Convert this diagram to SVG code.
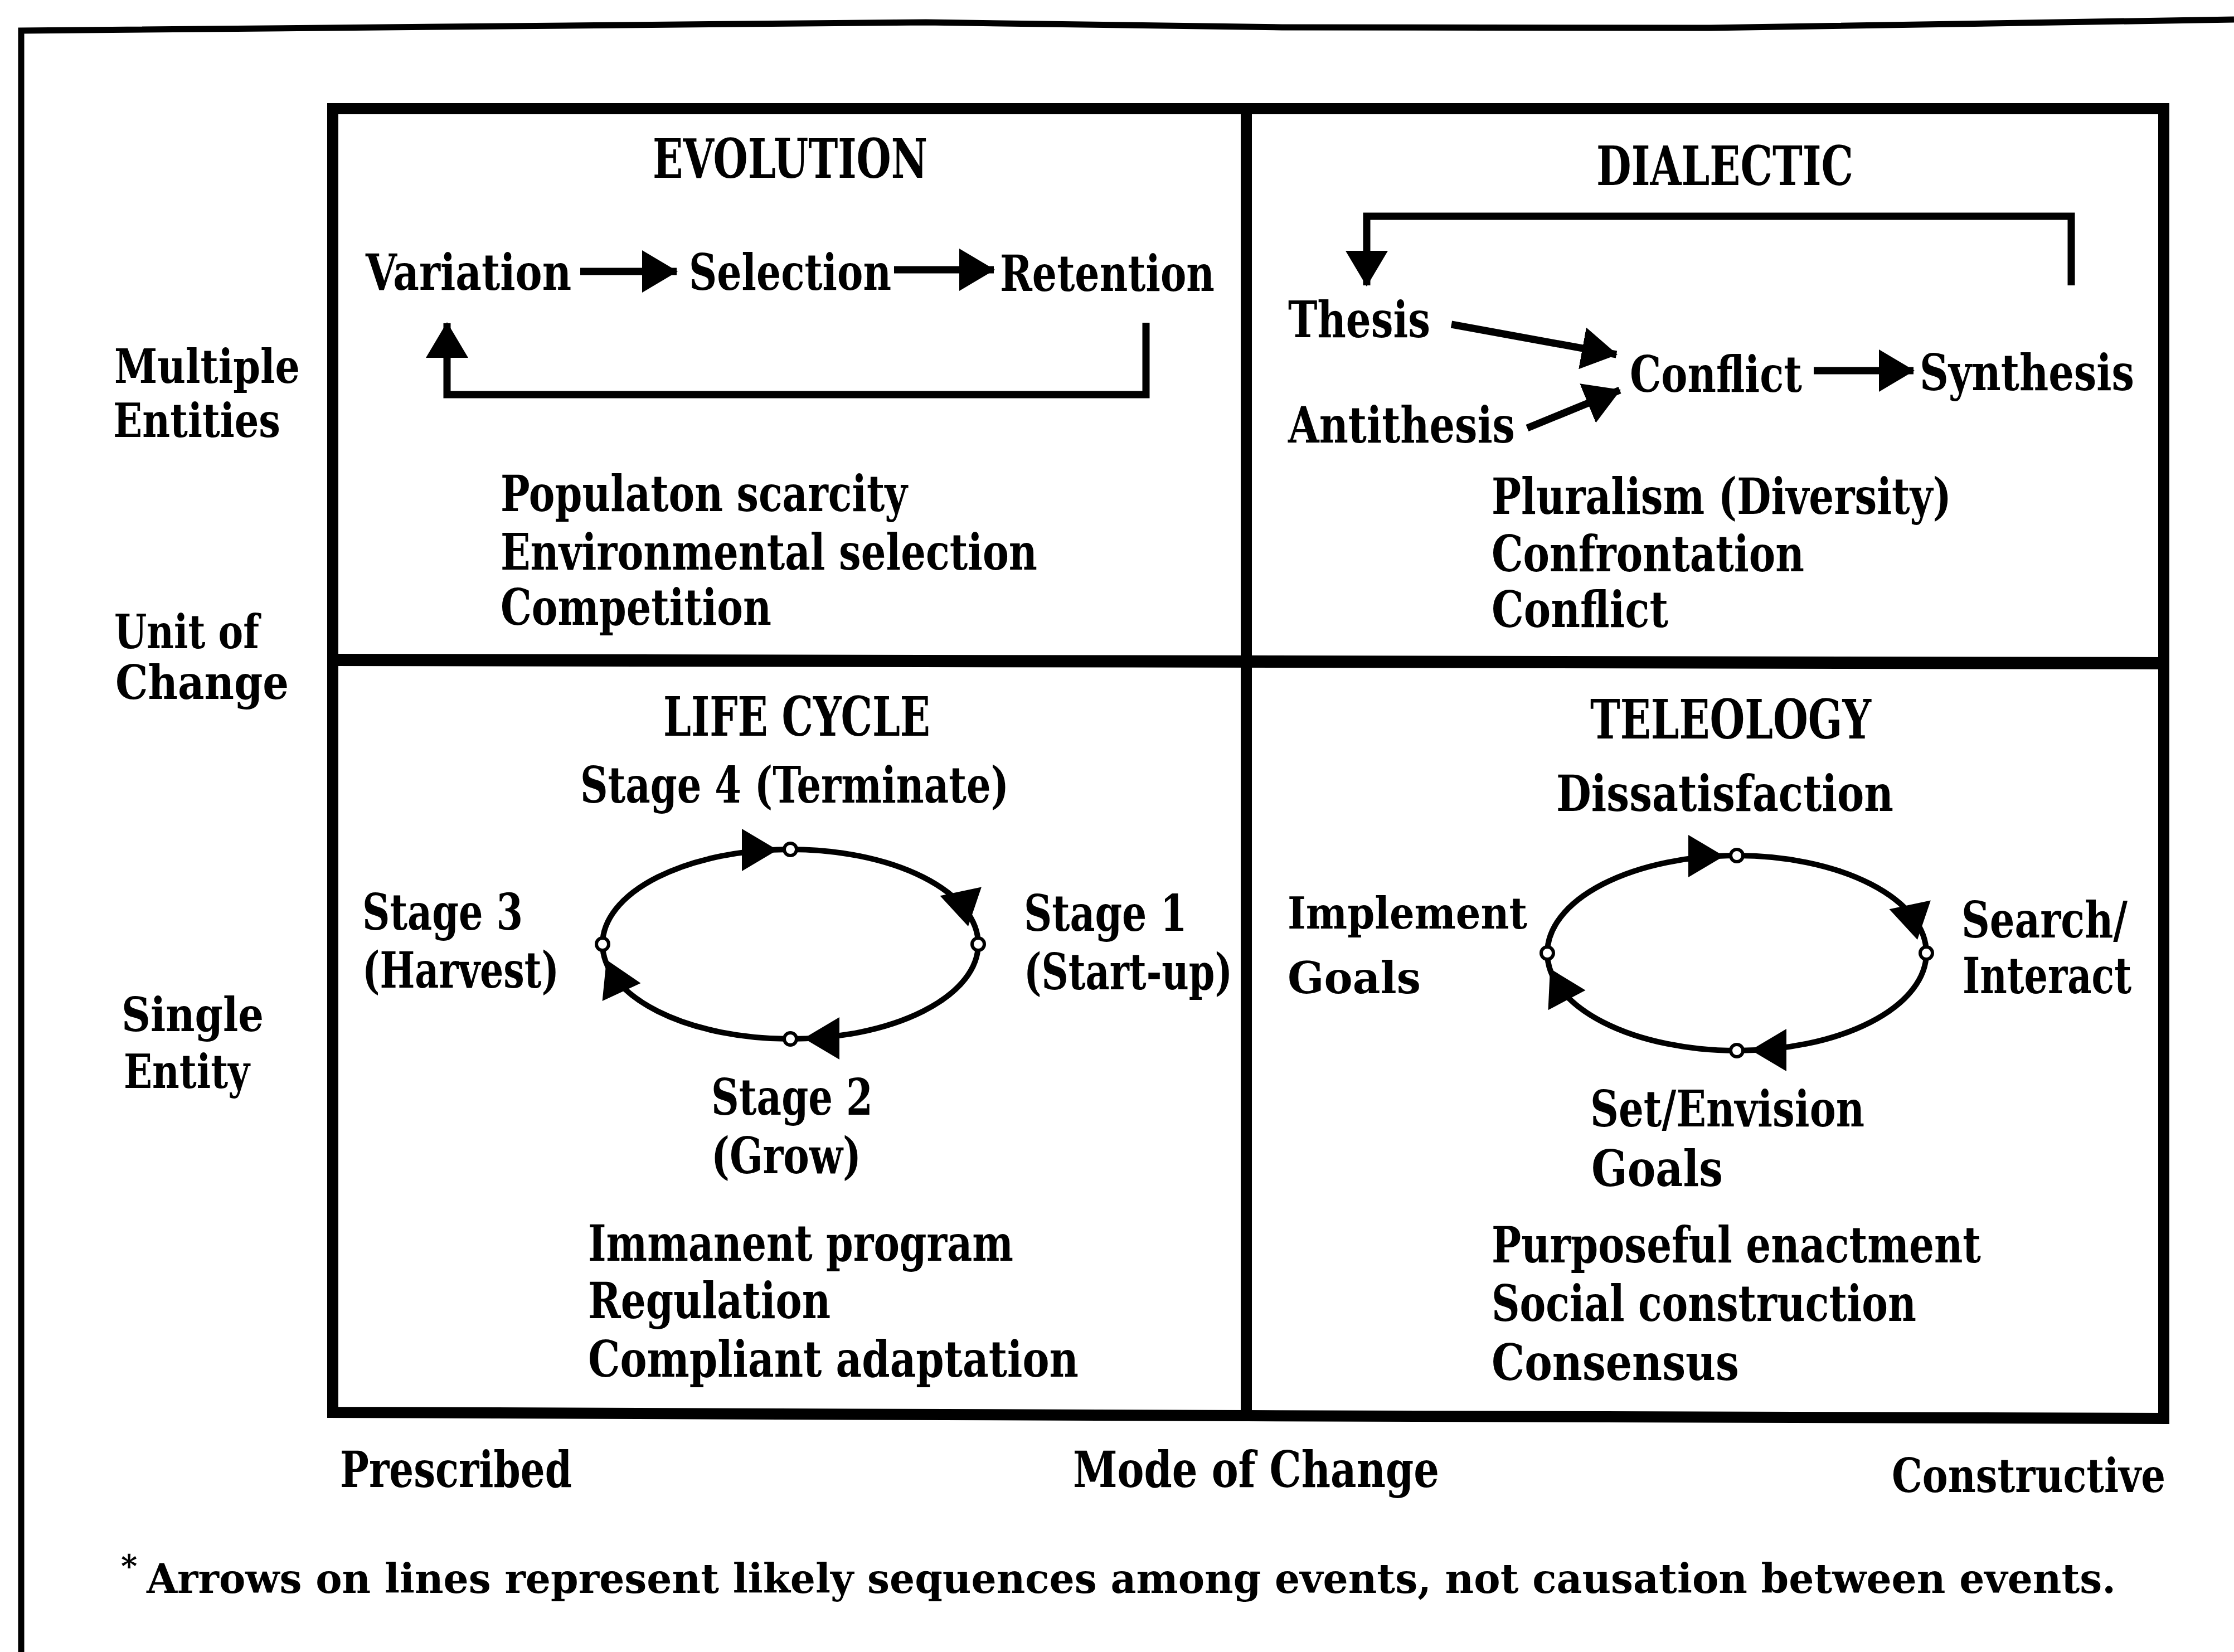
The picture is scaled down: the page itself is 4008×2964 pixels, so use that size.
<svg xmlns="http://www.w3.org/2000/svg" width="4008" height="2964" viewBox="0 0 4008 2964">
  <defs>
    <style>
      .t{font-family:"DejaVu Serif","Liberation Serif",serif;font-weight:bold;fill:#000;font-size:90px}
      .h{font-size:98px}
      .s{font-size:84px}
      .xs{font-size:78px}
      .fn{font-size:72px}
      .rule{fill:none;stroke:#000;stroke-linejoin:miter}
      .c{fill:none;stroke:#000;stroke-width:13}
      .cyc{fill:none;stroke:#000;stroke-width:10}
      .dot{fill:#fff;stroke:#000;stroke-width:6}
    </style>
    <marker id="arr" markerUnits="userSpaceOnUse" viewBox="0 0 64 76" markerWidth="64" markerHeight="76" refX="62" refY="38" orient="auto">
      <path d="M0,0 L64,38 L0,76 Z" fill="#000"/>
    </marker>
    <path id="head" d="M0,0 L-64,-38 L-64,38 Z" fill="#000"/>
  </defs>

  <rect width="4008" height="2964" fill="#fff"/>

  <!-- page frame -->
  <polyline class="rule" stroke-width="11" points="38,2964 38,55 1661,40 2300,49 3067,50 4008,35"/>

  <!-- 2x2 grid -->
  <g id="grid">
    <path class="rule" stroke-width="20" d="M597 195 H3882 V2545 L2236 2540 L597 2534 Z"/>
    <path class="rule" stroke-width="20" d="M2236 195 V2540"/>
    <path class="rule" stroke-width="22" d="M597 1184 L3882 1190"/>
  </g>

  <!-- axis labels -->
  <g id="axis-unit">
    <text class="t s" x="205" y="687" textLength="333" lengthAdjust="spacingAndGlyphs">Multiple</text>
    <text class="t s" x="203" y="784" textLength="300" lengthAdjust="spacingAndGlyphs">Entities</text>
    <text class="t s" x="205" y="1163" textLength="260" lengthAdjust="spacingAndGlyphs">Unit of</text>
    <text class="t s" x="207" y="1254" textLength="311" lengthAdjust="spacingAndGlyphs">Change</text>
    <text class="t s" x="218" y="1850" textLength="255" lengthAdjust="spacingAndGlyphs">Single</text>
    <text class="t s" x="222" y="1952" textLength="226" lengthAdjust="spacingAndGlyphs">Entity</text>
  </g>
  <g id="axis-mode">
    <text class="t" x="610" y="2668" textLength="416" lengthAdjust="spacingAndGlyphs">Prescribed</text>
    <text class="t" x="1925" y="2668" textLength="657" lengthAdjust="spacingAndGlyphs">Mode of Change</text>
    <text class="t s" x="3394" y="2677" textLength="491" lengthAdjust="spacingAndGlyphs">Constructive</text>
  </g>

  <!-- evolution -->
  <g id="evolution">
    <text class="t h" x="1171" y="319" textLength="493" lengthAdjust="spacingAndGlyphs">EVOLUTION</text>
    <text class="t" x="898" y="917" textLength="730" lengthAdjust="spacingAndGlyphs">Populaton scarcity</text>
    <text class="t" x="898" y="1022" textLength="963" lengthAdjust="spacingAndGlyphs">Environmental selection</text>
    <text class="t" x="898" y="1121" textLength="486" lengthAdjust="spacingAndGlyphs">Competition</text>
  </g>
  <g id="variation"><text class="t" x="656" y="520" textLength="369" lengthAdjust="spacingAndGlyphs">Variation</text></g>
  <g id="selection"><text class="t" x="1236" y="520" textLength="363" lengthAdjust="spacingAndGlyphs">Selection</text></g>
  <g id="retention"><text class="t" x="1794" y="522" textLength="385" lengthAdjust="spacingAndGlyphs">Retention</text></g>

  <!-- dialectic -->
  <g id="dialectic">
    <text class="t h" x="2864" y="332" textLength="461" lengthAdjust="spacingAndGlyphs">DIALECTIC</text>
    <text class="t" x="2676" y="922" textLength="825" lengthAdjust="spacingAndGlyphs">Pluralism (Diversity)</text>
    <text class="t" x="2676" y="1025" textLength="561" lengthAdjust="spacingAndGlyphs">Confrontation</text>
    <text class="t" x="2676" y="1125" textLength="317" lengthAdjust="spacingAndGlyphs">Conflict</text>
  </g>
  <g id="thesis"><text class="t" x="2311" y="605" textLength="255" lengthAdjust="spacingAndGlyphs">Thesis</text></g>
  <g id="antithesis"><text class="t" x="2311" y="794" textLength="407" lengthAdjust="spacingAndGlyphs">Antithesis</text></g>
  <g id="conflict"><text class="t" x="2924" y="703" textLength="309" lengthAdjust="spacingAndGlyphs">Conflict</text></g>
  <g id="synthesis"><text class="t" x="3444" y="700" textLength="385" lengthAdjust="spacingAndGlyphs">Synthesis</text></g>

  <!-- life cycle -->
  <g id="life-cycle">
    <text class="t h" x="1190" y="1320" textLength="479" lengthAdjust="spacingAndGlyphs">LIFE CYCLE</text>
    <text class="t" x="1055" y="2262" textLength="763" lengthAdjust="spacingAndGlyphs">Immanent program</text>
    <text class="t" x="1055" y="2365" textLength="435" lengthAdjust="spacingAndGlyphs">Regulation</text>
    <text class="t" x="1055" y="2470" textLength="880" lengthAdjust="spacingAndGlyphs">Compliant adaptation</text>
  </g>
  <g id="stage-4"><text class="t" x="1041" y="1440" textLength="769" lengthAdjust="spacingAndGlyphs">Stage 4 (Terminate)</text></g>
  <g id="stage-1">
    <text class="t" x="1837" y="1670" textLength="293" lengthAdjust="spacingAndGlyphs">Stage 1</text>
    <text class="t" x="1837" y="1775" textLength="374" lengthAdjust="spacingAndGlyphs">(Start-up)</text>
  </g>
  <g id="stage-2">
    <text class="t" x="1276" y="2000" textLength="290" lengthAdjust="spacingAndGlyphs">Stage 2</text>
    <text class="t" x="1276" y="2105" textLength="269" lengthAdjust="spacingAndGlyphs">(Grow)</text>
  </g>
  <g id="stage-3">
    <text class="t" x="650" y="1668" textLength="288" lengthAdjust="spacingAndGlyphs">Stage 3</text>
    <text class="t" x="650" y="1772" textLength="353" lengthAdjust="spacingAndGlyphs">(Harvest)</text>
  </g>

  <!-- teleology -->
  <g id="teleology">
    <text class="t h" x="2853" y="1325" textLength="504" lengthAdjust="spacingAndGlyphs">TELEOLOGY</text>
    <text class="t" x="2676" y="2265" textLength="878" lengthAdjust="spacingAndGlyphs">Purposeful enactment</text>
    <text class="t" x="2676" y="2370" textLength="762" lengthAdjust="spacingAndGlyphs">Social construction</text>
    <text class="t" x="2676" y="2476" textLength="444" lengthAdjust="spacingAndGlyphs">Consensus</text>
  </g>
  <g id="dissatisfaction"><text class="t" x="2792" y="1455" textLength="605" lengthAdjust="spacingAndGlyphs">Dissatisfaction</text></g>
  <g id="search-interact">
    <text class="t" x="3519" y="1682" textLength="298" lengthAdjust="spacingAndGlyphs">Search/</text>
    <text class="t" x="3521" y="1782" textLength="303" lengthAdjust="spacingAndGlyphs">Interact</text>
  </g>
  <g id="set-envision">
    <text class="t" x="2853" y="2021" textLength="492" lengthAdjust="spacingAndGlyphs">Set/Envision</text>
    <text class="t" x="2855" y="2128" textLength="236" lengthAdjust="spacingAndGlyphs">Goals</text>
  </g>
  <g id="implement">
    <text class="t xs" x="2310" y="1666" textLength="430" lengthAdjust="spacingAndGlyphs">Implement</text>
    <text class="t xs" x="2310" y="1782" textLength="239" lengthAdjust="spacingAndGlyphs">Goals</text>
  </g>

  <!-- connectors -->
  <g id="connectors">
    <!-- evolution sequence and feedback -->
    <line class="c" x1="1041" y1="487" x2="1214" y2="487" marker-end="url(#arr)"/>
    <line class="c" x1="1604" y1="484" x2="1783" y2="484" marker-end="url(#arr)"/>
    <path class="c" d="M2056 579 V708 H802 V580" marker-end="url(#arr)"/>

    <!-- dialectic sequence and feedback -->
    <line class="c" x1="2604" y1="582" x2="2900" y2="636" marker-end="url(#arr)"/>
    <line class="c" x1="2740" y1="768" x2="2906" y2="700" marker-end="url(#arr)"/>
    <line class="c" x1="3254" y1="665" x2="3433" y2="665" marker-end="url(#arr)"/>
    <path class="c" d="M3716 512 V388 H2452 V512" marker-end="url(#arr)"/>

    <!-- life cycle loop -->
    <ellipse class="cyc" cx="1418" cy="1694" rx="337" ry="170"/>
    <use href="#head" transform="translate(1395,1525) rotate(0)"/>
    <use href="#head" transform="translate(1737,1662) rotate(78)"/>
    <use href="#head" transform="translate(1442,1863) rotate(180)"/>
    <use href="#head" transform="translate(1088,1722) rotate(-115)"/>
    <circle class="dot" cx="1418" cy="1524" r="11"/>
    <circle class="dot" cx="1755" cy="1694" r="11"/>
    <circle class="dot" cx="1418" cy="1864" r="11"/>
    <circle class="dot" cx="1081" cy="1694" r="11"/>

    <!-- teleology loop -->
    <ellipse class="cyc" cx="3116" cy="1710" rx="340" ry="175"/>
    <use href="#head" transform="translate(3093,1536) rotate(0)"/>
    <use href="#head" transform="translate(3440,1686) rotate(78)"/>
    <use href="#head" transform="translate(3141,1884) rotate(180)"/>
    <use href="#head" transform="translate(2781,1738) rotate(-118)"/>
    <circle class="dot" cx="3116" cy="1535" r="11"/>
    <circle class="dot" cx="3456" cy="1710" r="11"/>
    <circle class="dot" cx="3116" cy="1885" r="11"/>
    <circle class="dot" cx="2776" cy="1710" r="11"/>
  </g>

  <!-- footnote -->
  <g id="footnote">
    <text class="t fn" x="217" y="2858"><tspan font-size="56" dy="-28">*</tspan><tspan x="263" dy="28" textLength="3533" lengthAdjust="spacingAndGlyphs">Arrows on lines represent likely sequences among events, not causation between events.</tspan></text>
  </g>
</svg>
